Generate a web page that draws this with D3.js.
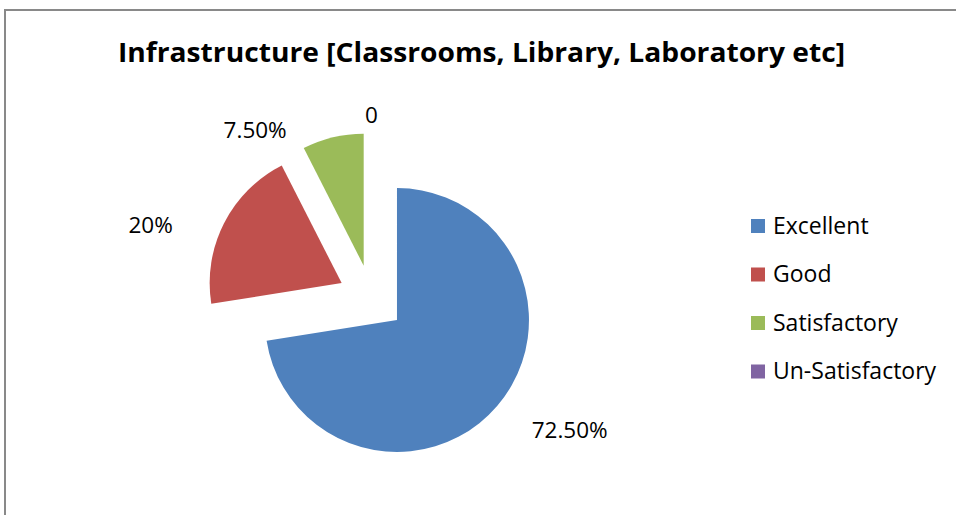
<!DOCTYPE html>
<html>
<head>
<meta charset="utf-8">
<script src="https://cdn.jsdelivr.net/npm/d3@7"></script>
<style>
  html, body { margin: 0; padding: 0; background: #fff; }
  svg { display: block; }
  text { font-family: "Open Sans", "Noto Sans", "Liberation Sans", sans-serif; fill: #000; }
</style>
</head>
<body>
<svg id="chart" width="956" height="515"></svg>
<script>
// Survey responses for infrastructure quality
const categories = ["Excellent", "Good", "Satisfactory", "Un-Satisfactory"];
const shares = [72.5, 20, 7.5, 0];
const valueLabels = ["72.50%", "20%", "7.50%", "0"];
const colors = ["#4F81BD", "#C0504D", "#9BBB59", "#8064A2"];
const chartTitle = "Infrastructure [Classrooms, Library, Laboratory etc]";

// Layout
const W = 956, H = 515;
const cx = 371.5, cy = 298.3;      // pie centre before explosion
const radius = 132;
const explode = 33.5;               // every slice is pulled out by the same distance
const labelGap = 40;
// fine adjustment of label boxes so they sit clear of neighbouring labels
const labelNudge = [[13, -7], [-18, 24], [-61, 39], [0, 30]];

const svg = d3.select("#chart");

// chart area border
svg.append("rect")
  .attr("x", 5).attr("y", 10)
  .attr("width", W + 20).attr("height", H + 20)
  .attr("fill", "#fff")
  .attr("stroke", "#898989")
  .attr("stroke-width", 2);

// title
svg.append("text")
  .attr("x", 481.5).attr("y", 62)
  .attr("text-anchor", "middle")
  .attr("font-size", 26.5)
  .attr("font-weight", "bold")
  .attr("textLength", 727)
  .attr("lengthAdjust", "spacingAndGlyphs")
  .text(chartTitle);

const data = categories.map((c, i) => ({ name: c, value: shares[i], label: valueLabels[i], color: colors[i], idx: i }));

const pie = d3.pie().sort(null).value(d => d.value).startAngle(0).endAngle(2 * Math.PI);
const arcs = pie(data);
const arc = d3.arc().innerRadius(0).outerRadius(radius);

const g = svg.append("g").attr("transform", `translate(${cx},${cy})`);

arcs.forEach(a => {
  const mid = (a.startAngle + a.endAngle) / 2;
  const dx = Math.sin(mid) * explode, dy = -Math.cos(mid) * explode;
  a.vx = dx; a.vy = dy; a.mid = mid;
});

g.selectAll("path.slice")
  .data(arcs.filter(a => a.value > 0))
  .join("path")
  .attr("class", "slice")
  .attr("transform", a => `translate(${a.vx},${a.vy})`)
  .attr("d", arc)
  .attr("fill", a => a.data.color);

// data labels placed just outside each slice
const labelSize = 22.5;
g.selectAll("text.val")
  .data(arcs)
  .join("text")
  .attr("class", "val")
  .attr("font-size", labelSize)
  .attr("text-anchor", "middle")
  .text(a => a.data.label)
  .each(function (a) {
    const w = this.getComputedTextLength();
    const h = labelSize * 0.72;
    const sx = Math.sin(a.mid), sy = -Math.cos(a.mid);
    const d = radius + labelGap;
    const n = labelNudge[a.data.idx];
    const x = a.vx + sx * d + sx * w / 2 + n[0];
    const y = a.vy + sy * d + sy * h / 2 + n[1];
    d3.select(this).attr("x", x).attr("y", y + h / 2);
  });

// legend
const legend = svg.append("g").attr("transform", "translate(751,219)");
const row = legend.selectAll("g")
  .data(data)
  .join("g")
  .attr("transform", (d, i) => `translate(0,${i * 48.5})`);
row.append("rect")
  .attr("width", 14).attr("height", 14)
  .attr("fill", d => d.color);
row.append("text")
  .attr("x", 22).attr("y", 14.5)
  .attr("font-size", 23)
  .text(d => d.name);
</script>
</body>
</html>
